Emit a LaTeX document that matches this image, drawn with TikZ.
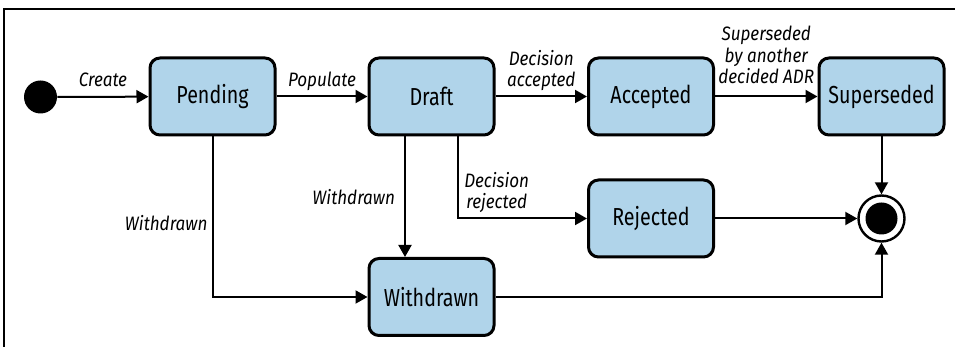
\documentclass[tikz,border=0pt]{standalone}
\usepackage{fontspec}
\setmainfont{Fira Sans}[FakeStretch=0.8]
\newfontfamily\edgefont{Fira Sans Italic}[FakeStretch=0.88]
\usetikzlibrary{arrows.meta}
\definecolor{stateblue}{RGB}{176,212,234}
\tikzset{
  state/.style = {draw=black, line width=1.5pt, rounded corners=5pt, fill=stateblue,
    minimum width=62.5pt, minimum height=38.5pt, inner sep=0pt,
    font=\fontsize{12.3}{14}\selectfont},
  trans/.style = {line width=1pt, -{Triangle[length=6pt, width=6.5pt]}},
  initstate/.style = {circle, fill=black, minimum size=16.5pt, inner sep=0pt},
  finalstate/.style = {circle, draw=black, line width=1.2pt, fill=white,
    minimum size=23pt, inner sep=0pt,
    path picture={\fill[black] (path picture bounding box.center) circle (8pt);}},
  edgetext/.style = {font=\edgefont\fontsize{9.7}{10.7}\selectfont, align=center,
    inner sep=0pt, text depth=0pt},
  frame/.style = {line width=0.75pt}
}

\begin{document}
\begin{tikzpicture}[x=0.5pt, y=-0.5pt]

    \useasboundingbox (0,0) rectangle (955,347);

    % Frame
    \draw[frame] (955,9) -- (4,9) -- (4,347);

    % States
    \node[initstate] (start) at (40.5,97) {};
    \node[state] (pending) at (212.5,96.5) {Pending};
    \node[state] (draft) at (431.5,96.5) {Draft};
    \node[state] (accepted) at (651,96.5) {Accepted};
    \node[state] (superseded) at (881.5,96.5) {Superseded};
    \node[state] (rejected) at (651,218.5) {Rejected};
    \node[state] (withdrawn) at (431.5,297) {Withdrawn};
    \node[finalstate] (end) at (881.5,218.5) {};

    % Transitions
    \draw[trans] (start) -- node[edgetext, above=4.5pt] {Create} (pending);
    \draw[trans] (pending) -- node[edgetext, above=4.5pt] {Populate} (draft);
    \draw[trans] (draft) -- node[edgetext, above=4.5pt] {Decision\\accepted} (accepted);
    \draw[trans] (accepted) -- node[edgetext, above=6pt] {Superseded\\by another\\decided ADR} (superseded);
    \draw[trans] (superseded) -- (end);
    \draw[trans] (pending.south) |- node[edgetext, left=2pt, pos=0.27] {Withdrawn} (withdrawn.west);
    \draw[trans] ([xshift=-13.25pt]draft.south) -- node[edgetext, left=4.5pt] {Withdrawn} ([xshift=-13.25pt]withdrawn.north);
    \draw[trans] ([xshift=13.25pt]draft.south) |- node[edgetext, above=4.5pt, pos=0.65] {Decision\\rejected} (rejected.west);
    \draw[trans] (rejected) -- (end);
    \draw[trans] (withdrawn.east) -| (end.south);

\end{tikzpicture}
\end{document}
